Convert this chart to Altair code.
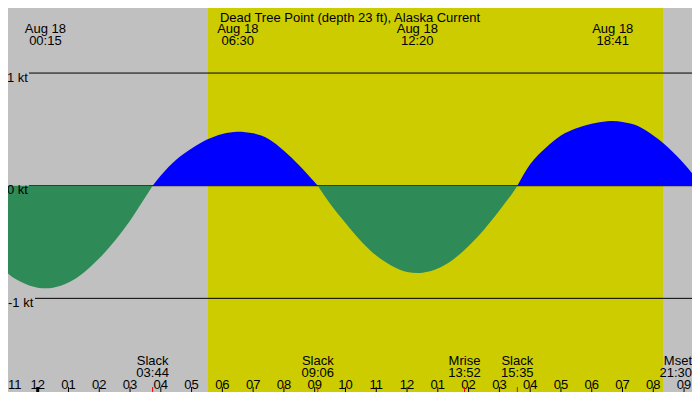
import altair as alt
import pandas as pd

# current speed in knots (hours after midnight, Aug 18)
ebb1_hour = [-1.225, -1.0, -0.5, 0.0, 0.25, 0.5, 1.0, 1.5, 2.0, 2.5, 3.0, 3.5, 3.733]
ebb1_kt = [-0.70, -0.77, -0.86, -0.905, -0.91, -0.905, -0.86, -0.77, -0.645, -0.49, -0.31, -0.10, 0.0]

flood1_hour = [3.733, 4.0, 4.5, 5.0, 5.5, 6.0, 6.5, 7.0, 7.5, 8.0, 8.5, 9.0, 9.1]
flood1_kt = [0.0, 0.09, 0.23, 0.33, 0.41, 0.46, 0.48, 0.465, 0.415, 0.31, 0.18, 0.03, 0.0]

ebb2_hour = [9.1, 9.5, 10.0, 10.5, 11.0, 11.5, 12.0, 12.333, 12.5, 13.0, 13.5, 14.0, 14.5, 15.0, 15.5, 15.583]
ebb2_kt = [0.0, -0.16, -0.33, -0.49, -0.62, -0.71, -0.765, -0.775, -0.772, -0.735, -0.655, -0.535, -0.39, -0.22, -0.035, 0.0]

flood2_hour = [15.583, 16.0, 16.5, 17.0, 17.5, 18.0, 18.5, 18.683, 19.0, 19.5, 20.0, 20.5, 21.0, 21.52]
flood2_kt = [0.0, 0.19, 0.335, 0.445, 0.51, 0.55, 0.572, 0.575, 0.566, 0.53, 0.445, 0.335, 0.195, 0.02]

# daylight
sunrise = 5.533
sunset = 20.315

# max / min current labels at the top
extreme_hour = [0.25, 6.5, 12.333, 18.683]
extreme_time = ["00:15", "06:30", "12:20", "18:41"]
extreme_date = ["Aug 18", "Aug 18", "Aug 18", "Aug 18"]

# slack and moon events at the bottom
event_hour = [3.733, 9.1, 13.867, 15.583, 21.5]
event_name = ["Slack", "Slack", "Mrise", "Slack", "Mset"]
event_time = ["03:44", "09:06", "13:52", "15:35", "21:30"]

hour_ticks = list(range(-1, 22))
hour_labels = ["11", "12", "01", "02", "03", "04", "05", "06", "07", "08", "09", "10",
               "11", "12", "01", "02", "03", "04", "05", "06", "07", "08", "09"]

kt_levels = [1, 0, -1]
kt_labels = ["1 kt", "0 kt", "-1 kt"]

title = "Dead Tree Point (depth 23 ft), Alaska Current"

FONT = "Liberation Sans"
W, H = 684, 384
T_MIN, T_MAX = -0.965, 21.258

segments = []
for i, (hrs, kts, d) in enumerate([(ebb1_hour, ebb1_kt, "ebb"), (flood1_hour, flood1_kt, "flood"),
                                   (ebb2_hour, ebb2_kt, "ebb"), (flood2_hour, flood2_kt, "flood")]):
    segments.append(pd.DataFrame({"hour": hrs, "value": kts, "seg": i, "dir": d}))
curve = pd.concat(segments, ignore_index=True)

x = alt.X("hour:Q", scale=alt.Scale(domain=[T_MIN, T_MAX], nice=False, zero=False), axis=None)
y_scale = alt.Scale(domain=[-1.8313, 1.5775], nice=False, zero=False)
y = alt.Y("value:Q", scale=y_scale, axis=None)


def txt(**kw):
    return dict(font=FONT, fontSize=13, color="black", **kw)


day = alt.Chart(pd.DataFrame({"hour": [sunrise], "end": [sunset]})).mark_rect(
    color="#cccc00", clip=True
).encode(x=x, x2="end:Q", y=alt.value(0), y2=alt.value(H))

levels_df = pd.DataFrame({"value": kt_levels, "label": kt_labels})
rules = alt.Chart(levels_df).transform_filter("datum.value >= 0").mark_rule(
    color="black", strokeWidth=1
).encode(y=y, x=alt.value(21), x2=alt.value(W))
rule_neg = alt.Chart(levels_df).transform_filter("datum.value < 0").mark_rule(
    color="black", strokeWidth=1
).encode(y=y, x=alt.value(27), x2=alt.value(W))
rule_text = alt.Chart(levels_df).transform_filter("datum.value >= 0").mark_text(
    **txt(align="right", dy=4.5)
).encode(y=y, x=alt.value(20), text="label:N")
rule_text_neg = alt.Chart(levels_df).transform_filter("datum.value < 0").mark_text(
    **txt(align="left", dy=4.5)
).encode(y=y, x=alt.value(0), text="label:N")

area = alt.Chart(curve).mark_area(interpolate="monotone", clip=True).encode(
    x=x,
    y=alt.Y("value:Q", scale=y_scale, axis=None, stack=None),
    y2=alt.datum(0),
    color=alt.Color("dir:N", scale=alt.Scale(domain=["ebb", "flood"], range=["#2e8b57", "#0000ff"]),
                    legend=None),
    detail="seg:N",
)

top_title = alt.Chart(pd.DataFrame({"t": [title]})).mark_text(**txt()).encode(
    x=alt.value(342), y=alt.value(10), text="t:N"
)

ext_df = pd.DataFrame({"hour": extreme_hour, "date": extreme_date, "time": extreme_time})
ext_date = alt.Chart(ext_df).mark_text(**txt()).encode(x=x, y=alt.value(21), text="date:N")
ext_time = alt.Chart(ext_df).mark_text(**txt()).encode(x=x, y=alt.value(33), text="time:N")

ev_df = pd.DataFrame({"hour": event_hour, "name": event_name, "time": event_time})
inside = f"datum.hour < {T_MAX - 0.3}"
edge = f"datum.hour >= {T_MAX - 0.3}"
ev_name = alt.Chart(ev_df).transform_filter(inside).mark_text(**txt()).encode(
    x=x, y=alt.value(353), text="name:N"
)
ev_time = alt.Chart(ev_df).transform_filter(inside).mark_text(**txt()).encode(
    x=x, y=alt.value(365), text="time:N"
)
ev_name_edge = alt.Chart(ev_df).transform_filter(edge).mark_text(**txt(align="right")).encode(
    x=alt.value(W), y=alt.value(353), text="name:N"
)
ev_time_edge = alt.Chart(ev_df).transform_filter(edge).mark_text(**txt(align="right")).encode(
    x=alt.value(W), y=alt.value(365), text="time:N"
)
ev_ticks = alt.Chart(ev_df).mark_rule(color="red", strokeWidth=1, clip=True).encode(
    x=x, y=alt.value(379), y2=alt.value(H)
)

hr_df = pd.DataFrame({"hour": hour_ticks, "label": hour_labels})
hr_text = alt.Chart(hr_df).transform_filter(f"datum.hour > {T_MIN + 0.2}").mark_text(
    **txt()
).encode(x=x, y=alt.value(377), text="label:N")
hr_text_edge = alt.Chart(hr_df).transform_filter(f"datum.hour <= {T_MIN + 0.2}").mark_text(
    **txt(align="left")
).encode(x=alt.value(0), y=alt.value(377), text="label:N")
hr_ticks = alt.Chart(hr_df).mark_rule(color="black", strokeWidth=1, clip=True).encode(
    x=x, y=alt.value(379), y2=alt.value(H)
)
midnight = alt.Chart(hr_df).transform_filter("datum.hour == 0").mark_rule(
    color="black", strokeWidth=3
).encode(x=x, y=alt.value(379), y2=alt.value(H))

chart = alt.layer(
    day, rules, rule_neg, area, rule_text, rule_text_neg, top_title, ext_date, ext_time,
    ev_name, ev_time, ev_name_edge, ev_time_edge, hr_text, hr_text_edge, hr_ticks,
    midnight, ev_ticks,
).properties(
    width=W, height=H, background="#c0c0c0", padding=0, autosize="none"
).configure_view(stroke=None)

chart.save("out.html", embed_options={"renderer": "svg", "actions": False})
